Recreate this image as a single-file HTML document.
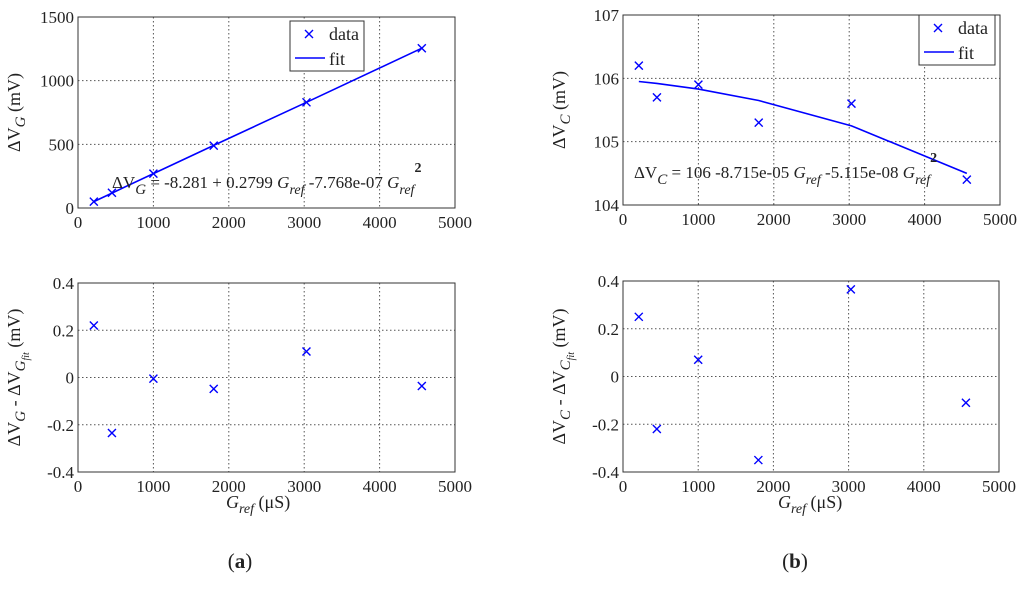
<!DOCTYPE html>
<html><head><meta charset="utf-8"><style>
body{margin:0;background:#fff;width:1024px;height:585px;overflow:hidden}
svg text{font-family:"Liberation Serif",serif;fill:#222}
</style></head><body>
<svg id="s" width="1024" height="585">
<text x="240" y="568" font-size="21" text-anchor="middle">(<tspan font-weight="bold">a</tspan>)</text>
<text x="795" y="568" font-size="21" text-anchor="middle">(<tspan font-weight="bold">b</tspan>)</text>
</svg>
<script>
const xData=[210,450,1000,1800,3030,4560];
const vgData=[50,120,270,490,830,1255];
const vgFit=[50,117,270,492,830,1255];
const vgRes=[0.22,-0.235,-0.005,-0.048,0.11,-0.036];
const vcData=[106.2,105.7,105.9,105.3,105.6,104.4];
const vcFit=[105.95,105.92,105.83,105.65,105.25,104.5];
const vcRes=[0.25,-0.22,0.07,-0.35,0.365,-0.11];
const xTicks=[0,1000,2000,3000,4000,5000];
const vgTicks=[0,500,1000,1500];
const vcTicks=[104,105,106,107];
const resTicks=[-0.4,-0.2,0,0.2,0.4];
const NS="http://www.w3.org/2000/svg";
const S=document.getElementById('s');
function mk(t,a,p){const e=document.createElementNS(NS,t);for(const k in a)e.setAttribute(k,a[k]);(p||S).appendChild(e);return e;}
function panel(name,L,R,T,B,ymin,ymax,yt,ylab,xs,ys,fit,leg){
 const g=mk('g',{});
 
 
 const sx=v=>L+(v-0)/5000*(R-L), sy=v=>B-(v-ymin)/(ymax-ymin)*(B-T);
 mk('rect',{x:L,y:T,width:R-L,height:B-T,fill:'#fff',stroke:'none'},g);
 xTicks.forEach(v=>{const x=sx(v);
  if(v>0&&v<5000){const l=mk('line',{x1:x,x2:x,y1:T,y2:B,stroke:'#555','stroke-dasharray':'1.5,2.5','stroke-width':1},g);}
  const t=mk('text',{x:x,y:B+20,'font-size':17,'text-anchor':'middle'},g);t.textContent=v;
  });
 yt.forEach(v=>{const y=sy(v);
  if(v>ymin&&v<ymax){const l=mk('line',{x1:L,x2:R,y1:y,y2:y,stroke:'#555','stroke-dasharray':'1.5,2.5','stroke-width':1},g);}
  const t=mk('text',{x:L-4,y:y+6,'font-size':17,'text-anchor':'end'},g);t.textContent=v;
  });
 const fr=mk('rect',{x:L,y:T,width:R-L,height:B-T,fill:'none',stroke:'#333','stroke-width':1},g);
 
 if(fit){const p=mk('polyline',{points:xs.map((x,i)=>sx(x)+','+sy(fit[i])).join(' '),fill:'none',stroke:'#00f','stroke-width':1.6},g);
  }
 xs.forEach((x,i)=>{const cx=sx(x),cy=sy(ys[i]);
  const m=mk('path',{d:`M${cx-4},${cy-4}L${cx+4},${cy+4}M${cx-4},${cy+4}L${cx+4},${cy-4}`,stroke:'#00f','stroke-width':1.4,fill:'none'},g);
  });
 const yl=mk('text',{transform:`translate(${L-58},${(T+B)/2}) rotate(-90)`,'font-size':18,'text-anchor':'middle'},g);
 yl.innerHTML=ylab;
 
 if(leg){const lg=mk('g',{},g);
  
  mk('rect',{x:leg[0],y:leg[1],width:leg[2],height:50,fill:'#fff',stroke:'#333'},lg);
  const x0=leg[0]+5,y0=leg[1]+13;
  mk('path',{d:`M${x0+10},${y0-4}L${x0+18},${y0+4}M${x0+10},${y0+4}L${x0+18},${y0-4}`,stroke:'#00f','stroke-width':1.4},lg);
  let t=mk('text',{x:x0+34,y:y0+6,'font-size':18},lg);t.textContent='data';
  mk('line',{x1:x0,x2:x0+30,y1:y0+24,y2:y0+24,stroke:'#00f','stroke-width':1.6},lg);
  t=mk('text',{x:x0+34,y:y0+31,'font-size':18},lg);t.textContent='fit';}
 return g;}
panel('panel-a-top',78,455,17,208,0,1500,vgTicks,'ΔV<tspan dy="5" font-style="italic" font-size="15">G</tspan><tspan dy="-5"> (mV)</tspan>',xData,vgData,vgFit,[290,21,74]);
panel('panel-a-bottom',78,455,283,472,-0.4,0.4,resTicks,'ΔV<tspan dy="5" font-style="italic" font-size="15">G</tspan><tspan dy="-5"> - ΔV</tspan><tspan dy="5" font-style="italic" font-size="15">G</tspan><tspan dy="4" font-style="italic" font-size="10">fit</tspan><tspan dy="-9"> (mV)</tspan>',xData,vgRes,null,null);
panel('panel-b-top',623,1000,15,205,104,107,vcTicks,'ΔV<tspan dy="5" font-style="italic" font-size="15">C</tspan><tspan dy="-5"> (mV)</tspan>',xData,vcData,vcFit,[919,15,76]);
panel('panel-b-bottom',623,999,281,472,-0.4,0.4,resTicks,'ΔV<tspan dy="5" font-style="italic" font-size="15">C</tspan><tspan dy="-5"> - ΔV</tspan><tspan dy="5" font-style="italic" font-size="15">C</tspan><tspan dy="4" font-style="italic" font-size="10">fit</tspan><tspan dy="-9"> (mV)</tspan>',xData,vcRes,null,null);
function txt(x,y,html,name,size){const t=mk('text',{x:x,y:y,'font-size':size||17});t.innerHTML=html;}
txt(112,188,'ΔV<tspan dy="6" font-style="italic" font-size="15">G</tspan><tspan dy="-6"> = -8.281 + 0.2799 </tspan><tspan font-style="italic">G</tspan><tspan dy="6" font-style="italic" font-size="14">ref</tspan><tspan dy="-6"> -7.768e-07 </tspan><tspan font-style="italic">G</tspan><tspan dy="6" font-style="italic" font-size="14">ref</tspan><tspan dy="-22" font-size="14" font-weight="bold">2</tspan>','fit-equation-a');
txt(634,178,'ΔV<tspan dy="6" font-style="italic" font-size="15">C</tspan><tspan dy="-6"> = 106 -8.715e-05 </tspan><tspan font-style="italic">G</tspan><tspan dy="6" font-style="italic" font-size="14">ref</tspan><tspan dy="-6"> -5.115e-08 </tspan><tspan font-style="italic">G</tspan><tspan dy="6" font-style="italic" font-size="14">ref</tspan><tspan dy="-22" font-size="14" font-weight="bold">2</tspan>','fit-equation-b');
txt(226,508,'<tspan font-style="italic">G</tspan><tspan dy="5" font-style="italic" font-size="14">ref</tspan><tspan dy="-5"> (μS)</tspan>','x-axis-title-a',18);
txt(778,508,'<tspan font-style="italic">G</tspan><tspan dy="5" font-style="italic" font-size="14">ref</tspan><tspan dy="-5"> (μS)</tspan>','x-axis-title-b',18);
</script>
</body></html>
